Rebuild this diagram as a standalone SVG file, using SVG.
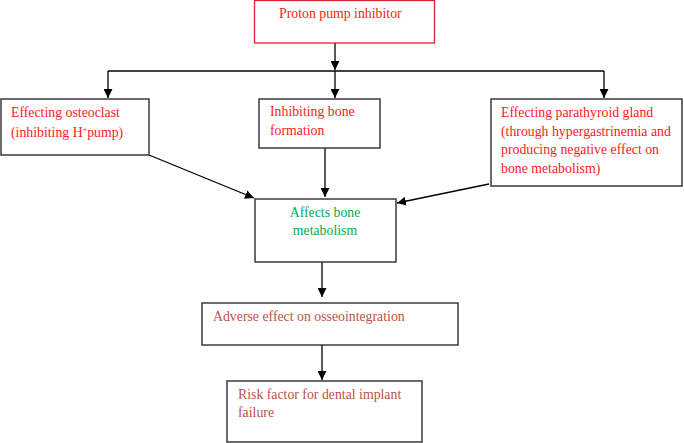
<svg xmlns="http://www.w3.org/2000/svg" width="684" height="443" viewBox="0 0 684 443">
<style>
.box{fill:#fff;stroke:#3a3a3a;stroke-width:1.5}
.t{font-family:"Liberation Serif","Times New Roman",serif;font-size:13.8px}
.red{fill:#ff1a1a}
.dred{fill:#c0504d}
.grn{fill:#00b050}
.ln{stroke:#000;stroke-width:1.3;fill:none}
</style>
<defs>
<marker id="ah" viewBox="0 0 10 10" refX="10" refY="5" markerWidth="9" markerHeight="9" markerUnits="userSpaceOnUse" orient="auto">
<path d="M0,0 L10,5 L0,10 Z" fill="#000"/>
</marker>
</defs>
<rect width="684" height="443" fill="#fff"/>
<g id="connectors">
<line class="ln" x1="335" y1="43" x2="335" y2="70" marker-end="url(#ah)"/>
<line class="ln" x1="108" y1="71" x2="604" y2="71"/>
<line class="ln" x1="108" y1="71" x2="108" y2="98" marker-end="url(#ah)"/>
<line class="ln" x1="335" y1="71" x2="335" y2="98" marker-end="url(#ah)"/>
<line class="ln" x1="604" y1="71" x2="604" y2="98" marker-end="url(#ah)"/>
<line class="ln" x1="149" y1="155" x2="254" y2="198" marker-end="url(#ah)"/>
<line class="ln" x1="325" y1="148" x2="325" y2="197" marker-end="url(#ah)"/>
<line class="ln" x1="489" y1="184" x2="397" y2="203" marker-end="url(#ah)"/>
<line class="ln" x1="322" y1="262" x2="322" y2="297" marker-end="url(#ah)"/>
<line class="ln" x1="322" y1="345" x2="322" y2="380" marker-end="url(#ah)"/>
</g>
<g id="ppi">
<rect x="254.5" y="0.5" width="180" height="42.5" fill="#fff" stroke="#d9262c" stroke-width="1.3"/>
<text class="t red" x="279" y="18">Proton pump inhibitor</text>
</g>
<g id="osteoclast">
<rect class="box" x="1" y="99" width="148" height="56"/>
<text class="t red" x="11" y="117">Effecting osteoclast</text>
<text class="t red" x="11" y="137">(inhibiting H<tspan dy="-5" font-size="8">+</tspan><tspan dy="5">pump)</tspan></text>
</g>
<g id="boneformation">
<rect class="box" x="259" y="99" width="121" height="49"/>
<text class="t red" x="270" y="116">Inhibiting bone</text>
<text class="t red" x="270" y="135">formation</text>
</g>
<g id="parathyroid">
<rect class="box" x="491" y="99" width="191" height="87"/>
<text class="t red" x="501" y="117">Effecting parathyroid gland</text>
<text class="t red" x="501" y="136">(through hypergastrinemia and</text>
<text class="t red" x="501" y="154">producing negative effect on</text>
<text class="t red" x="501" y="173">bone metabolism)</text>
</g>
<g id="metabolism">
<rect class="box" x="255" y="199" width="141" height="63"/>
<text class="t grn" x="325" y="217" text-anchor="middle">Affects bone</text>
<text class="t grn" x="325" y="235" text-anchor="middle">metabolism</text>
</g>
<g id="osseointegration">
<rect class="box" x="202" y="303" width="256" height="42"/>
<text class="t dred" x="213" y="321">Adverse effect on osseointegration</text>
</g>
<g id="risk">
<rect class="box" x="227" y="381" width="195" height="61"/>
<text class="t dred" x="238" y="399">Risk factor for dental implant</text>
<text class="t dred" x="238" y="417">failure</text>
</g>
</svg>
